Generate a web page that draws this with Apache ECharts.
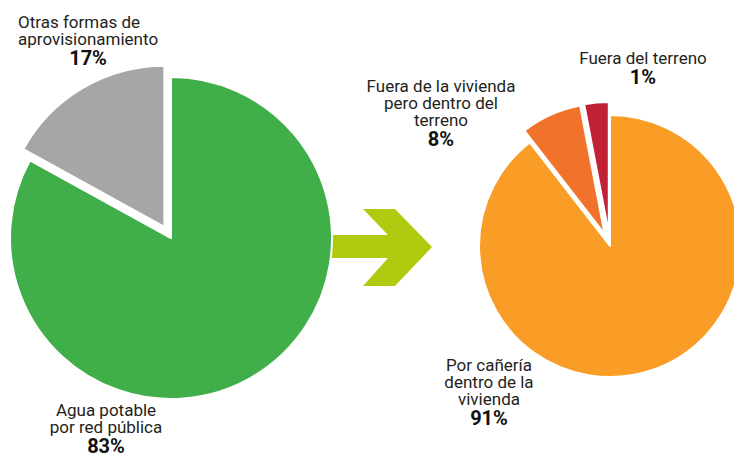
<!DOCTYPE html>
<html>
<head>
<meta charset="utf-8">
<script src="https://cdn.jsdelivr.net/npm/echarts@6/dist/echarts.min.js"></script>
<style>
html, body { margin: 0; padding: 0; background: #fff; }
#chart { width: 734px; height: 456px; }
</style>
</head>
<body>
<div id="chart"></div>
<script>
// left pie: where the water comes from
const sourceNames = ['Agua potable\npor red pública', 'Otras formas de\naprovisionamiento']
const sourceValues = [83, 17]
const sourcePct = ['83%', '17%']

// right pie: how the public network water reaches the home
const pipeNames = ['Por cañería\ndentro de la\nvivienda', 'Fuera de la vivienda\npero dentro del\nterreno', 'Fuera del terreno']
const pipeValues = [89.5, 7.5, 3] // slice sizes as drawn in the picture
const pipePct = ['91%', '8%', '1%']

const sourceColors = ['#40ae49', '#a6a6a6']
const pipeColors = ['#f99d26', '#f1722a', '#c22034']

// label anchors: [x, top y, align]
const sourceLabelPos = [[106, 401, 'center'], [18, 13, 'left']]
const pipeLabelPos = [[489, 356, 'center'], [441, 77, 'center'], [643, 49, 'center']]

const chart = echarts.init(document.getElementById('chart'), null, { renderer: 'svg' })

function buildData (names, values, colors, exploded) {
  return names.map((name, i) => ({
    name: name,
    value: values[i],
    selected: exploded.indexOf(i) > -1,
    itemStyle: { color: colors[i] }
  }))
}

const labelRich = {
  n: { fontFamily: 'Roboto', fontSize: 17, lineHeight: 17, fill: '#231f20' },
  p: { fontFamily: 'Roboto', fontSize: 20, fontWeight: 'bold', lineHeight: 22, fill: '#111', align: 'center' }
}

// slice captions, drawn as text next to each pie
function captions (names, pct, pos) {
  return names.map((name, i) => {
    const lines = name.split('\n').map(l => '{n|' + l + '}')
    return {
      type: 'text',
      z: 10,
      style: {
        text: lines.join('\n') + '\n{p|' + pct[i] + '}',
        x: pos[i][0],
        y: pos[i][1],
        align: pos[i][2],
        verticalAlign: 'top',
        rich: labelRich
      }
    }
  })
}

function pieSeries (data, center, radius) {
  return {
    type: 'pie',
    center: center,
    radius: radius,
    startAngle: 90,
    clockwise: true,
    selectedMode: 'multiple',
    selectedOffset: 13,
    animation: false,
    silent: true,
    itemStyle: { borderColor: '#fff', borderWidth: 2 },
    label: { show: false },
    labelLine: { show: false },
    emphasis: { disabled: true },
    data: data
  }
}

const option = {
  animation: false,
  graphic: [
    {
      type: 'polygon',
      z: 0,
      shape: {
        points: [[320, 235], [388, 235], [363, 209], [395, 209], [432, 247], [395, 286], [363, 286], [388, 258], [320, 258]]
      },
      style: { fill: '#b0ca0f' }
    }
  ].concat(
    captions(sourceNames, sourcePct, sourceLabelPos),
    captions(pipeNames, pipePct, pipeLabelPos)
  ),
  series: [
    pieSeries(buildData(sourceNames, sourceValues, sourceColors, [1]), [171, 238], 161),
    pieSeries(buildData(pipeNames, pipeValues, pipeColors, [1, 2]), [610, 246], 131)
  ]
}

chart.setOption(option)
</script>
</body>
</html>
